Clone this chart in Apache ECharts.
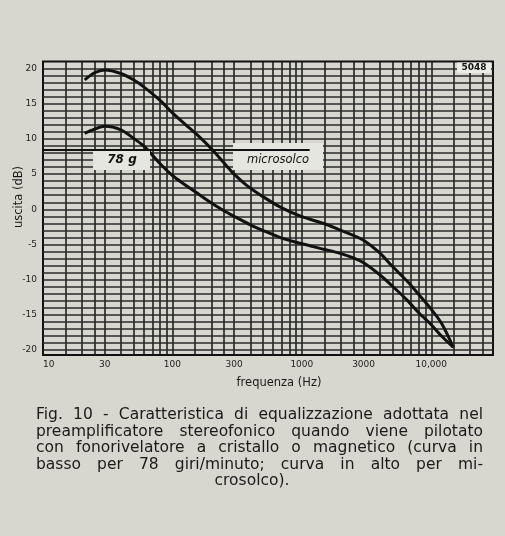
<!DOCTYPE html>
<html><head><meta charset="utf-8">
<script src="https://cdn.jsdelivr.net/npm/echarts@6/dist/echarts.min.js"></script>
<style>html,body{margin:0;padding:0;background:#d7d7cf;}#c{width:505px;height:536px;}</style>
</head><body><div id="c"></div>
<script>
// Upper curve (microsolco)
const microFreq = [21, 25, 30, 40, 50, 60, 80, 100, 125, 155, 200, 250, 300, 375, 500, 700, 1000, 1500, 2000, 2500, 3000, 4000, 5000, 6500, 8000, 10000, 12000, 14800];
const microDb   = [18.4, 19.4, 19.8, 19.3, 18.4, 17.4, 15.5, 13.7, 12.1, 10.6, 8.6, 6.6, 5.0, 3.4, 1.8, 0.2, -1.05, -2.05, -3.0, -3.7, -4.4, -6.2, -8.1, -10.2, -12.1, -14.2, -16.2, -19.6];
// Lower curve (78 g)
const g78Freq = [21, 25, 30, 40, 50, 60, 70, 80, 100, 125, 150, 200, 250, 300, 400, 500, 700, 1000, 1500, 2000, 2500, 3000, 4000, 5000, 6500, 8000, 10000, 12000, 14800];
const g78Db   = [10.8, 11.4, 11.8, 11.3, 10.1, 9.0, 7.7, 6.5, 4.8, 3.5, 2.5, 0.9, -0.2, -1.0, -2.2, -3.0, -4.1, -4.9, -5.7, -6.3, -6.9, -7.6, -9.3, -10.9, -12.9, -14.7, -16.4, -18.0, -19.6];

const xTickValues = [10, 30, 100, 300, 1000, 3000, 10000];
const yTickValues = [-20, -15, -10, -5, 0, 5, 10, 15, 20];
const vGridFreqs = [15, 20, 25, 30, 40, 50, 60, 70, 80, 90,
  100, 150, 200, 250, 300, 400, 500, 600, 700, 800, 900,
  1000, 1500, 2000, 2500, 3000, 4000, 5000, 6000, 7000, 8000, 9000,
  10000, 15000, 20000, 25000];
const hGridDb = [-20, -19, -18, -17, -16, -15, -14, -13, -12, -11, -10, -9, -8, -7, -6, -5, -4, -3, -2, -1,
  0, 1, 2, 3, 4, 5, 6, 7, 8, 9, 10, 11, 12, 13, 14, 15, 16, 17, 18, 19, 20];
const captionLines = [
  'Fig. 10 - Caratteristica di equalizzazione adottata nel',
  'preamplificatore stereofonico quando viene pilotato',
  'con fonorivelatore a cristallo o magnetico (curva in',
  'basso per 78 giri/minuto; curva in alto per mi-',
  'crosolco).'
];

const chart = echarts.init(document.getElementById('c'));
const FONT = 'DejaVu Sans';

// Caption (justified lines)
const cv = document.createElement('canvas').getContext('2d');
const capSize = 15.5;
const capFont = capSize + 'px "' + FONT + '"';
cv.font = capFont;
const capLeft = 36, capRight = 483, capY0 = 415, capDy = 16.6;
const graphics = [];
captionLines.forEach((line, i) => {
  const y = capY0 + i * capDy;
  if (i === captionLines.length - 1) {
    graphics.push({type:'text', x:252, y:y, z:100, style:{text:line, font:capFont, fill:'#1a1a1a', textAlign:'center', textVerticalAlign:'middle'}});
    return;
  }
  const words = line.split(' ');
  const widths = words.map(w => cv.measureText(w).width);
  const total = widths.reduce((a,b)=>a+b,0);
  const gap = (capRight - capLeft - total) / (words.length - 1);
  let x = capLeft;
  words.forEach((w, j) => {
    graphics.push({type:'text', x:x, y:y, z:100, style:{text:w, font:capFont, fill:'#1a1a1a', textAlign:'left', textVerticalAlign:'middle'}});
    x += widths[j] + gap;
  });
});

// annotation boxes
graphics.push(
  {type:'rect', z:100, shape:{x:93, y:150, width:57, height:20}, style:{fill:'#e6e6e0'}},
  {type:'text', z:101, x:122, y:160, style:{text:'78 g', font:'italic bold 12px "'+FONT+'"', fill:'#111', textAlign:'center', textVerticalAlign:'middle'}},
  {type:'rect', z:100, shape:{x:233, y:143, width:90, height:27}, style:{fill:'#e6e6e0'}},
  {type:'text', z:101, x:278, y:160, style:{text:'microsolco', font:'italic 11.5px "'+FONT+'"', fill:'#111', textAlign:'center', textVerticalAlign:'middle'}},
  {type:'rect', z:100, shape:{x:457, y:62.5, width:34, height:10.5}, style:{fill:'#ecece6'}},
  {type:'text', z:101, x:474, y:68, style:{text:'5048', font:'bold 9px "'+FONT+'"', fill:'#111', textAlign:'center', textVerticalAlign:'middle'}},
  {type:'text', z:100, x:19, y:197, rotation:Math.PI/2, style:{text:'uscita (dB)', font:'11.5px "'+FONT+'"', fill:'#1a1a1a', textAlign:'center', textVerticalAlign:'middle'}},
  {type:'text', z:100, x:279, y:383, style:{text:'frequenza (Hz)', font:'11.5px "'+FONT+'"', fill:'#1a1a1a', textAlign:'center', textVerticalAlign:'middle'}}
);

const gridLines = [];
vGridFreqs.forEach(f => gridLines.push({xAxis:f, lineStyle:{color:'#151515', width:1.5, type:'solid'}}));
hGridDb.forEach(d => gridLines.push({yAxis:d, lineStyle:{color:'#2a2a2a', width:1.5, type:'solid'}}));

chart.setOption({
  animation:false,
  backgroundColor:'#d7d7cf',
  grid:{left:43, right:12, top:61.5, bottom:181, show:true, borderColor:'#111', borderWidth:2, backgroundColor:'transparent'},
  xAxis:{type:'log', logBase:10, min:10, max:30000,
    axisLine:{show:false}, axisTick:{show:false}, splitLine:{show:false}, minorSplitLine:{show:false},
    axisLabel:{customValues:xTickValues, formatter:v => (v >= 10000 ? '10,000' : String(v)), fontSize:9, color:'#222', margin:5, fontFamily:FONT, alignMinLabel:'left'}},
  yAxis:{type:'value', min:-20.7, max:21,
    axisLine:{show:false}, axisTick:{show:false}, splitLine:{show:false},
    axisLabel:{customValues:yTickValues, fontSize:9, color:'#222', margin:6, fontFamily:FONT}},
  graphic:graphics,
  series:[
    {type:'line', z:1, data:[[10,0]], showSymbol:false, symbol:'none', lineStyle:{width:0}, silent:true,
      markLine:{z:1, silent:true, symbol:['none','none'], label:{show:false}, animation:false, data:gridLines}},
    {type:'line', z:150, data:[[10,0]], showSymbol:false, symbol:'none', lineStyle:{width:0}, silent:true,
      markLine:{z:200, zlevel:0, silent:true, symbol:['none','none'], label:{show:false}, animation:false,
        data:[[{coord:[10, 8.5], lineStyle:{color:'#111', width:2.2, type:'solid'}}, {coord:[1150, 8.5]}]]}},
    {type:'line', z:5, name:'microsolco', smooth:0.3, showSymbol:false, symbol:'none', lineStyle:{color:'#111', width:3},
      data:microFreq.map((f,i)=>[f, microDb[i]])},
    {type:'line', z:5, name:'78 g', smooth:0.3, showSymbol:false, symbol:'none', lineStyle:{color:'#111', width:3},
      data:g78Freq.map((f,i)=>[f, g78Db[i]])}
  ]
});
</script></body></html>
